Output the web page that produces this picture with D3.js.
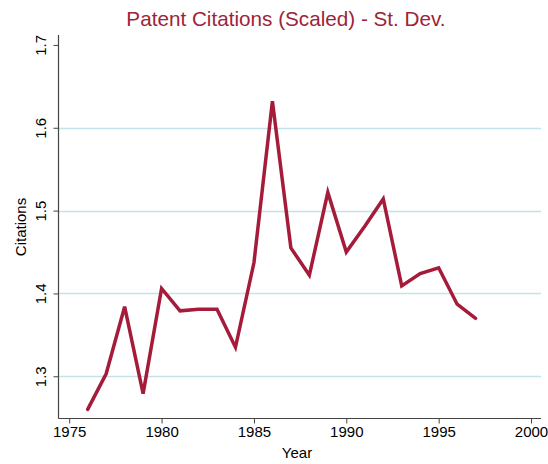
<!DOCTYPE html>
<html><head><meta charset="utf-8">
<script src="https://cdn.jsdelivr.net/npm/d3@7"></script>
<style>body{margin:0;background:#fff}svg{display:block}</style>
</head><body>
<script>
const years = [1976,1977,1978,1979,1980,1981,1982,1983,1984,1985,1986,1987,1988,1989,1990,1991,1992,1993,1994,1995,1996,1997];
const citations = [1.260,1.303,1.384,1.279,1.406,1.379,1.381,1.381,1.335,1.437,1.632,1.455,1.422,1.522,1.450,1.481,1.514,1.409,1.424,1.431,1.387,1.370];
const xTicks = [1975,1980,1985,1990,1995,2000];
const yTicks = [1.3,1.4,1.5,1.6,1.7];
const title = "Patent Citations (Scaled) - St. Dev.";

const W = 548, H = 464;
const svg = d3.select("body").append("svg").attr("width", W).attr("height", H);
const font = "Helvetica, Arial, 'Liberation Sans', sans-serif";
const x = d3.scaleLinear().domain([1974.42, 2000.54]).range([58.5, 541]);
const y = d3.scaleLinear().domain([1.249, 1.712]).range([418.5, 35]);

// gridlines
svg.append("g").selectAll("line").data(yTicks.filter(d => d < 1.7)).join("line")
  .attr("x1", 59).attr("x2", 541).attr("y1", d => Math.round(y(d)) + 0.5).attr("y2", d => Math.round(y(d)) + 0.5)
  .attr("stroke", "#c4e2ec").attr("stroke-width", 1.4);

// axes
const gx = svg.append("g").attr("transform", "translate(0,418.5)")
  .call(d3.axisBottom(x).tickValues(xTicks).tickFormat(d3.format("d")).tickSize(5).tickPadding(3));
const gy = svg.append("g").attr("transform", "translate(58.5,0)")
  .call(d3.axisLeft(y).tickValues(yTicks).tickFormat(d3.format(".1f")).tickSize(5).tickPadding(4));
[gx, gy].forEach(g => {
  g.select(".domain").attr("stroke", "#444").attr("stroke-width", 1.2);
  g.selectAll(".tick line").attr("stroke", "#444");
  g.selectAll("text").attr("fill", "#000").style("font-family", font).style("font-size", "15px");
});
gx.select(".domain").attr("d", `M${x.range()[0]},0H${x.range()[1]}`);
gy.select(".domain").attr("d", `M0,${y.range()[0]}V${y.range()[1]}`);
gy.selectAll(".tick text")
  .attr("transform", "rotate(-90)").attr("x", 0).attr("y", -13)
  .attr("text-anchor", "middle").attr("dy", "0");

// line
svg.append("path").datum(years.map((d, i) => [d, citations[i]]))
  .attr("fill", "none").attr("stroke", "#a51c3a").attr("stroke-width", 3.5)
  .attr("stroke-linejoin", "miter").attr("stroke-linecap", "round")
  .attr("d", d3.line().x(d => x(d[0])).y(d => y(d[1])));

// labels
svg.append("text").attr("x", 286).attr("y", 26).attr("text-anchor", "middle")
  .style("font-family", font).style("font-size", "20.7px").attr("fill", "#9e2438").text(title);
svg.append("text").attr("x", 297).attr("y", 458).attr("text-anchor", "middle")
  .style("font-family", font).style("font-size", "15px").attr("fill", "#000").text("Year");
svg.append("text").attr("transform", "translate(26,227) rotate(-90)").attr("text-anchor", "middle")
  .style("font-family", font).style("font-size", "15px").attr("fill", "#000").text("Citations");
</script>
</body></html>
